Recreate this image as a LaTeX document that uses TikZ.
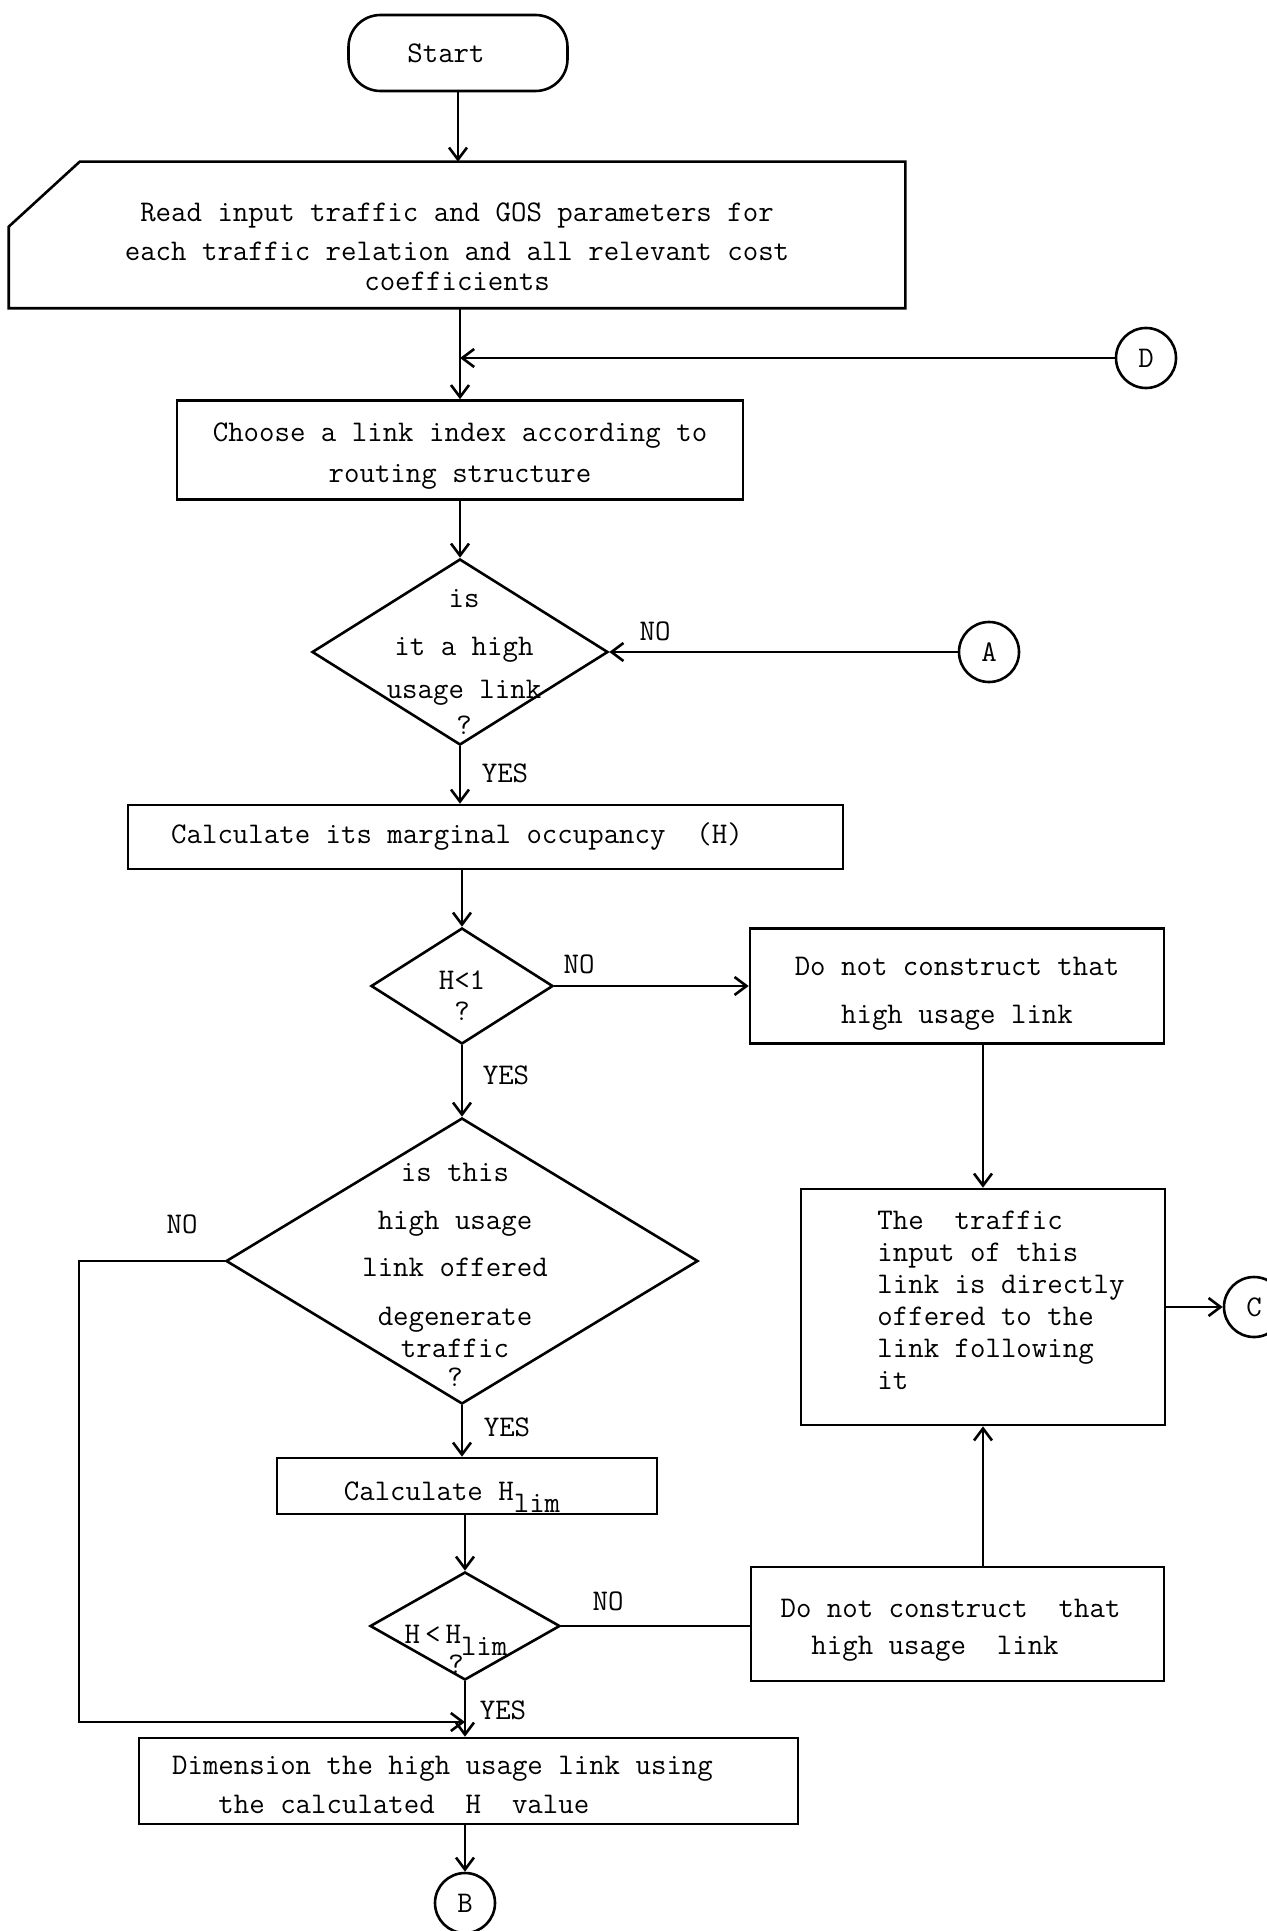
\documentclass[tikz,border=0pt]{standalone}
\usepackage{tikz}
\usetikzlibrary{shapes.geometric,arrows.meta,positioning,calc}

\begin{document}
\begin{tikzpicture}[
    x=0.5pt, y=-0.5pt,
    font=\ttfamily\fontsize{15}{16}\selectfont,
    box/.style={draw, line width=1.3pt, align=center, inner sep=0pt},
    terminal/.style={draw, line width=1.3pt, rounded corners=16pt, minimum width=109.5pt, minimum height=38pt},
    decision/.style={draw, diamond, line width=1.3pt, inner sep=0pt},
    connector/.style={draw, circle, line width=1.3pt, minimum size=30pt, inner sep=0pt},
    qtext/.style={align=center, inner sep=0pt},
    answer/.style={inner sep=0pt},
    flowline/.style={line width=1.3pt},
    arrow/.style={-{Straight Barb[length=6pt,width=9pt]}, line width=1.3pt}
]
\useasboundingbox (0,0) rectangle (1267,1931);

% Start and input
\node[terminal] (start) at (458,53) {Start\hspace*{12pt}};
\node[box, draw=none, minimum width=447pt, minimum height=72pt] (read) at (457,235)
    {\rule{0pt}{20.7pt}Read input traffic and GOS parameters for\\[3.7pt]each traffic relation and all relevant cost\\[-1.2pt]coefficients};
\draw[flowline] (read.north east) -- (read.south east) -- (read.south west)
    -- ([yshift=-32.5pt]read.north west) -- ([xshift=35.5pt]read.north west) -- cycle;

% Entry from D
\node[connector] (dconn) at (1146,358) {D};
\coordinate (dmerge) at (460,358);

% Link choice
\node[box, minimum width=283pt, minimum height=49.5pt] (choose) at (460,450)
    {\rule{0pt}{15.7pt}Choose a link index according to\\[4.3pt]routing structure};

% High usage test
\node[decision, minimum width=148pt, minimum height=93pt] (q1) at (460,652) {};
\node[qtext] (q1txt) at (464,662) {is\\[8pt]it a high\\[5.5pt]usage link\\[2pt]?};
\node[answer] (q1no) at (655,631) {NO};
\node[answer] (q1yes) at (505,773) {YES};
\node[connector] (aconn) at (989,652) {A};

% Marginal occupancy
\node[box, minimum width=357.5pt, minimum height=32pt] (calc) at (485.5,837)
    {Calculate its marginal occupancy~~(H)\hspace*{28.5pt}};

% H<1 test
\node[decision, minimum width=91pt, minimum height=58pt] (q2) at (462,986) {};
\node[qtext] (q2txt) at (462,996) {H<1\\[-0.5pt]?};
\node[answer] (q2no) at (579,964) {NO};
\node[answer] (q2yes) at (506,1075) {YES};
\node[box, minimum width=207pt, minimum height=57.5pt] (nocona) at (957,986)
    {\rule{0pt}{16.6pt}Do not construct that\\[8pt]high usage link};

% Direct offering
\node[box, minimum width=182pt, minimum height=118pt] (feed) at (983,1307) {};
\node[answer, align=left, anchor=west] (feedtxt) at (877,1300)
    {The~~traffic\\input of this\\link is directly\\offered to the\\link following\\it};
\node[connector] (cconn) at (1254,1307) {C};

% Degenerate traffic test
\node[decision, minimum width=236pt, minimum height=143pt] (q3) at (462,1261) {};
\node[qtext] (q3txt) at (455,1275)
    {is this\\[8pt]high usage\\[7.5pt]link offered\\[8.5pt]degenerate\\traffic\\[-1.5pt]?};
\node[answer] (q3no) at (182,1224) {NO};
\node[answer] (q3yes) at (507,1427) {YES};

% Limit
\node[box, minimum width=190pt, minimum height=28pt] (hlim) at (467,1486)
    {\rule{0pt}{14.2pt}Calculate H\raisebox{-6pt}[0pt][0pt]{lim}\hspace*{15pt}};
\node[decision, minimum width=95pt, minimum height=54pt] (q4) at (465,1626) {};
\node[qtext] (q4txt) at (456,1649) {H\,<\,H\raisebox{-6pt}[0pt][0pt]{lim}\\[-1pt]?};
\node[answer] (q4no) at (608,1601) {NO};
\node[answer] (q4yes) at (503,1710) {YES};
\node[box, minimum width=206.5pt, minimum height=57pt, align=left] (noconb) at (957.5,1624)
    {\rule{0pt}{15.2pt}Do not construct~~that\hspace*{7pt}\\[2.5pt]~~high usage~~link};

% Dimensioning
\coordinate (join) at (465,1722);
\coordinate (loopcorner) at (79,1722);
\node[box, minimum width=329.5pt, minimum height=43pt, align=left] (dim) at (468.5,1781)
    {\rule{0pt}{13.5pt}Dimension the high usage link using\hspace*{26pt}\\[3.5pt]~~~the calculated~~H~~value};
\node[connector] (bconn) at (465,1903) {B};

% Arrows
\draw[arrow] (start.south) -- (start.south |- read.north);
\draw[arrow] (read.south -| choose.north) -- (choose.north);
\draw[arrow] (dconn) -- (dmerge);
\draw[arrow] (choose.south -| q1.north) -- (q1.north);
\draw[arrow] (aconn) -- (q1.east);
\draw[arrow] (q1.south) -- (q1.south |- calc.north);
\draw[arrow] (calc.south -| q2.north) -- (q2.north);
\draw[arrow] (q2.east) -- (q2.east -| nocona.west);
\draw[arrow] (nocona.south -| feed.north) -- (feed.north);
\draw[arrow] (feed) -- (cconn);
\draw[arrow] (q2.south) -- (q3.north);
\draw[arrow] (q3.south) -- (q3.south |- hlim.north);
\draw[arrow] (hlim.south -| q4.north) -- (q4.north);
\draw[flowline] (q4.east) -- (q4.east -| noconb.west);
\draw[arrow] (noconb.north -| feed.south) -- (feed.south);
\draw[arrow] (q3.west) -| (loopcorner) -- (join);
\draw[arrow] (q4.south) -- (q4.south |- dim.north);
\draw[arrow] (dim.south -| bconn.north) -- (bconn.north);

\end{tikzpicture}
\end{document}
